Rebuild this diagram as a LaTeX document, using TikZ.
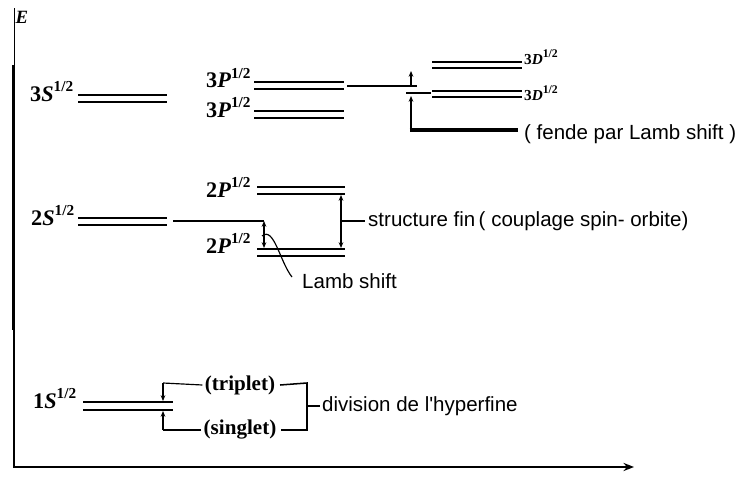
\documentclass[tikz,border=0pt]{standalone}
\usepackage{fontspec}
\setmainfont{Liberation Serif}
\newfontfamily\annotfont{Liberation Sans}
\usetikzlibrary{arrows.meta}
\newcommand{\halfsup}[1]{\raisebox{0.42em}{\fontsize{#1}{#1}\selectfont 1/2}}
\begin{document}
\begin{tikzpicture}[x=0.03cm,y=-0.03cm,
  lvl/.style={line width=2.5pt},
  conn/.style={line width=1pt},
  lbl/.style={font=\bfseries\fontsize{19}{19}\selectfont, inner sep=0pt, anchor=base west},
  lbld/.style={font=\bfseries\fontsize{13}{13}\selectfont, inner sep=0pt, anchor=base west},
  ann/.style={font=\annotfont\fontsize{17.5}{17.5}\selectfont, inner sep=0pt, anchor=west},
  subann/.style={font=\bfseries\fontsize{18}{18}\selectfont, inner sep=0pt},
  tipa/.style={-{Stealth[length=5pt,width=4pt]}},
  tipb/.style={{Stealth[length=5pt,width=4pt]}-{Stealth[length=5pt,width=4pt]}}]
\useasboundingbox (0,0) rectangle (742,477);

% axes
\coordinate (atop) at (14,8);
\coordinate (amid) at (14,65);
\coordinate (orig) at (14,467);
\coordinate (xend) at (634,467);
\draw[line width=0.8pt] (atop) -- (amid);
\draw[line width=3pt] (13.5,65) -- (13.5,330);
\draw[line width=1.3pt,-{Stealth[length=9pt,width=7pt]}] (amid) -- (orig) -- (xend);
\node[font=\bfseries\itshape\fontsize{16}{16}\selectfont, inner sep=0pt] (elab) at (22,17) {E};

% 3S
\node[lbl] (l3s) at (30,101) {3\textit{S}\halfsup{13}};
\draw[lvl] (78,95) -- (167,95);
\draw[lvl] (78,102) -- (167,102);

% 3P
\node[lbl] (l3pa) at (206,88) {3\textit{P}\halfsup{13}};
\node[lbl] (l3pb) at (206,117) {3\textit{P}\halfsup{13}};
\draw[lvl] (254,82) -- (344,82);
\draw[lvl] (254,89) -- (344,89);
\draw[lvl] (254,111) -- (344,111);
\draw[lvl] (254,118) -- (344,118);

% 3D
\draw[lvl] (432,62) -- (522,62);
\draw[lvl] (432,68) -- (522,68);
\draw[lvl] (432,91) -- (522,91);
\draw[lvl] (432,97) -- (522,97);
\node[lbld] (l3da) at (524,64) {3\textit{D}\halfsup{10}};
\node[lbld] (l3db) at (524,100) {3\textit{D}\halfsup{10}};

% 3P - 3D connectors
\coordinate (c3p) at (347,86);
\coordinate (c3k) at (411,86);
\coordinate (c3up) at (411,71);
\coordinate (c3l) at (406,93);
\coordinate (c3r) at (431,93);
\coordinate (c3lo) at (411,130);
\coordinate (c3ar) at (411,96);
\coordinate (c3end) at (518,130);
\draw[conn] (c3p) -- (417,86);
\draw[conn,tipa] (c3k) -- (c3up);
\draw[conn] (c3l) -- (c3r);
\draw[line width=2pt,tipa] (c3lo) -- (c3ar);
\draw[line width=3.5pt] (409.5,130) -- (c3end);
\node[ann] (fende) at (524,134) {(\ fende par Lamb shift )};

% 2S
\node[lbl] (l2s) at (31,225) {2\textit{S}\halfsup{13}};
\draw[lvl] (78,218) -- (167,218);
\draw[lvl] (78,225) -- (167,225);

% 2P
\node[lbl] (l2pa) at (206,197) {2\textit{P}\halfsup{13}};
\node[lbl] (l2pb) at (206,253) {2\textit{P}\halfsup{13}};
\draw[lvl] (257,187) -- (345,187);
\draw[lvl] (257,194) -- (345,194);
\draw[lvl] (257,249) -- (345,249);
\draw[lvl] (257,256) -- (345,256);

% Lamb shift 2S-2P
\coordinate (c2s) at (173,221);
\coordinate (c2k) at (264,221);
\coordinate (c2lo) at (264,248);
\draw[conn] (c2s) -- (c2k);
\draw[line width=1.4pt,tipb] (c2k) -- (c2lo);
\node[ann] (lamb) at (302,281) {Lamb shift};
\draw[conn] (262,236) .. controls (274,226) and (280,262) .. (292,277);

% fine structure
\coordinate (fsa) at (341,195);
\coordinate (fsb) at (341,248);
\coordinate (fsm) at (341,221);
\coordinate (fst) at (365,221);
\draw[line width=1.4pt,tipb] (fsa) -- (fsb);
\draw[conn] (fsm) -- (fst);
\node[ann] (fine) at (368,221) {structure fin\,( couplage spin- orbite)};

% 1S hyperfine
\node[lbl] (l1s) at (33,408) {1\textit{S}\halfsup{13}};
\draw[lvl] (83,402) -- (173,402);
\draw[lvl] (83,410) -- (173,410);
\node[subann] (trip) at (240,385) {(triplet)};
\node[subann] (sing) at (240,430) {(singlet)};
\coordinate (hta) at (163,383);
\coordinate (hba) at (163,430);
\draw[conn] ([xshift=-2pt]trip.west) -- (hta);
\draw[conn,tipa] (hta) -- (163,401);
\draw[conn] ([xshift=-2pt]sing.west) -- (hba);
\draw[conn,tipa] (hba) -- (163,411);
\coordinate (hrt) at (307,383);
\coordinate (hrb) at (307,430);
\coordinate (hrm) at (307,406);
\draw[line width=1.3pt] ([xshift=4pt]trip.east) -- (hrt) -- (hrb) -- ([xshift=4pt]sing.east);
\draw[conn] (hrm) -- (320,406);
\node[ann] (hyp) at (322,406) {division de l'hyperfine};
\end{tikzpicture}
\end{document}
